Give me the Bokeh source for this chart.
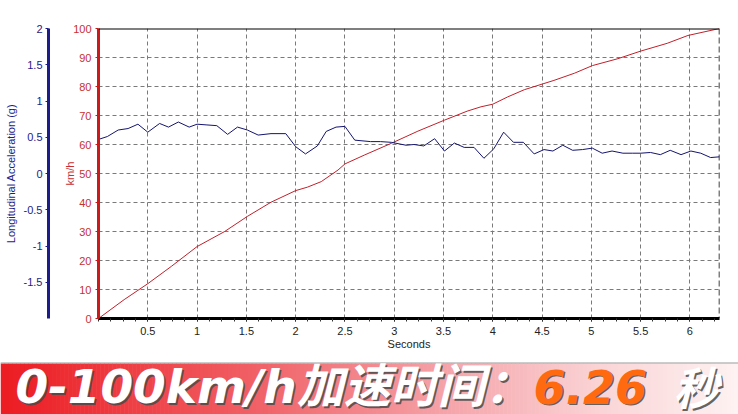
from bokeh.plotting import figure
from bokeh.models import Range1d, LinearAxis, FixedTicker, CustomJSTickFormatter, Span
from bokeh.layouts import column
from bokeh.core.properties import value
from bokeh.embed import file_html
from bokeh.resources import INLINE

# ---------------- data ----------------
accel_t = [0.0, 0.09, 0.2, 0.3, 0.4, 0.5, 0.62, 0.71, 0.81, 0.92, 1.0, 1.1, 1.2, 1.31, 1.41,
           1.51, 1.62, 1.75, 1.9, 2.0, 2.1, 2.22, 2.31, 2.41, 2.5, 2.6, 2.76, 2.86, 2.97, 3.12,
           3.2, 3.3, 3.41, 3.51, 3.61, 3.71, 3.81, 3.91, 4.01, 4.11, 4.21, 4.31, 4.42, 4.52,
           4.61, 4.71, 4.81, 4.91, 5.01, 5.11, 5.21, 5.32, 5.42, 5.5, 5.6, 5.7, 5.8, 5.91,
           6.01, 6.11, 6.21, 6.3]
accel_g = [0.47, 0.51, 0.6, 0.62, 0.68, 0.57, 0.69, 0.64, 0.71, 0.64, 0.68, 0.67, 0.66, 0.54, 0.64,
           0.6, 0.53, 0.55, 0.55, 0.37, 0.27, 0.38, 0.58, 0.64, 0.65, 0.46, 0.44, 0.44, 0.43, 0.39,
           0.4, 0.38, 0.48, 0.31, 0.42, 0.36, 0.36, 0.21, 0.34, 0.57, 0.43, 0.43, 0.27, 0.33,
           0.31, 0.39, 0.32, 0.33, 0.35, 0.28, 0.31, 0.28, 0.28, 0.28, 0.29, 0.26, 0.32, 0.26,
           0.31, 0.28, 0.22, 0.23]

speed_t = [0.0, 0.26, 0.5, 0.74, 1.0, 1.28, 1.51, 1.75, 2.0, 2.12, 2.26, 2.43, 2.5, 2.7, 2.97,
           3.24, 3.51, 3.74, 3.88, 4.0, 4.15, 4.32, 4.62, 4.83, 5.01, 5.27, 5.5, 5.77, 5.98, 6.3]
speed_kmh = [0, 6.5, 12.0, 18.0, 24.8, 30.0, 35.2, 40.1, 44.1, 45.3, 47.2, 51.2, 53.3, 56.4, 60.4,
             64.6, 68.4, 71.5, 73.0, 73.9, 76.4, 78.9, 82.1, 84.6, 87.2, 89.6, 92.2, 94.9, 97.6, 100]

x_ticks = [0.5, 1, 1.5, 2, 2.5, 3, 3.5, 4, 4.5, 5, 5.5, 6]
speed_ticks = [0, 10, 20, 30, 40, 50, 60, 70, 80, 90, 100]
accel_ticks = [-1.5, -1, -0.5, 0, 0.5, 1, 1.5, 2]

t_end = speed_t[-1]

banner_main = "0-100km/h加速时间："
banner_value = "6.26"
banner_unit = "秒"

FONT = "Liberation Sans"
NAVY = "#1c1c8a"
RED = "#cc1a1a"
W = 738
CH = 352          # chart figure height
BH = 414 - CH     # banner figure height
STRIPE = 52       # height of the coloured banner band

# ---------------- chart ----------------
p = figure(width=W, height=CH, x_range=Range1d(0, t_end), y_range=Range1d(0, 100),
           output_backend="svg", toolbar_location=None,
           min_border_left=98, min_border_right=19, min_border_top=28,
           min_border_bottom=CH - 319)
p.frame_align = False
p.extra_y_ranges = {"acc": Range1d(-2, 2)}
p.outline_line_color = None
p.background_fill_color = "white"

fmt = CustomJSTickFormatter(code="return tick.toString();")

xa = p.xaxis[0]
xa.ticker = FixedTicker(ticks=x_ticks, minor_ticks=[i * 0.125 for i in range(51)])
xa.formatter = fmt
xa.axis_label = "Seconds"
xa.axis_line_color = "black"
xa.axis_line_width = 3
xa.major_tick_line_color = "#333333"
xa.minor_tick_line_color = "#333333"
xa.major_tick_in = 0
xa.major_tick_out = 3
xa.minor_tick_in = 0
xa.minor_tick_out = 3
xa.major_label_standoff = 5
xa.axis_label_standoff = 0
xa.major_label_text_font = FONT
xa.major_label_text_font_size = "11px"
xa.major_label_text_color = "#222222"
xa.axis_label_text_font = FONT
xa.axis_label_text_font_size = "11px"
xa.axis_label_text_font_style = "normal"
xa.axis_label_text_color = "#222222"

ya = p.yaxis[0]
ya.ticker = FixedTicker(ticks=speed_ticks)
ya.axis_label = "km/h"
ya.axis_line_color = RED
ya.axis_line_width = 3
ya.major_tick_line_color = RED
ya.major_tick_in = 0
ya.major_tick_out = 3
ya.minor_tick_line_color = None
ya.major_label_standoff = 4
ya.axis_label_standoff = -6
ya.major_label_text_font = FONT
ya.major_label_text_font_size = "11px"
ya.major_label_text_color = "#c83030"
ya.axis_label_text_font = FONT
ya.axis_label_text_font_size = "11px"
ya.axis_label_text_font_style = "normal"
ya.axis_label_text_color = "#c83030"

# spacer axis (invisible) to push the acceleration axis outward
sp = LinearAxis(y_range_name="acc", ticker=FixedTicker(ticks=[]), axis_label=" ",
                axis_label_standoff=1, axis_line_color=None, major_tick_line_color=None,
                minor_tick_line_color=None, major_label_text_font_size="0px",
                axis_label_text_font_size="8px")
p.add_layout(sp, "left")

ba = LinearAxis(y_range_name="acc", ticker=FixedTicker(ticks=accel_ticks), formatter=fmt,
                axis_label="Longitudinal Acceleration (g)")
ba.axis_line_color = NAVY
ba.axis_line_width = 3
ba.major_tick_line_color = NAVY
ba.major_tick_in = 0
ba.major_tick_out = 3
ba.minor_tick_line_color = None
ba.major_label_standoff = 3
ba.axis_label_standoff = 4
ba.major_label_text_font = FONT
ba.major_label_text_font_size = "11px"
ba.major_label_text_color = NAVY
ba.axis_label_text_font = FONT
ba.axis_label_text_font_size = "11px"
ba.axis_label_text_font_style = "normal"
ba.axis_label_text_color = NAVY
p.add_layout(ba, "left")

for g in (p.xgrid[0], p.ygrid[0]):
    g.grid_line_color = "#7a7a7a"
    g.grid_line_dash = "4 3"
    g.grid_line_width = 1

p.add_layout(Span(location=100, dimension="width", line_color="black", line_width=2))
p.add_layout(Span(location=t_end, dimension="height", line_color="black", line_width=1.5,
                  line_dash="6 3"))

p.line(speed_t, speed_kmh, line_color="#c0202a", line_width=1)
p.line(accel_t, accel_g, line_color="#14146e", line_width=1, y_range_name="acc")

# ---------------- banner ----------------
b = figure(width=W, height=BH, x_range=Range1d(0, W), y_range=Range1d(0, BH),
           x_axis_type=None, y_axis_type=None, output_backend="svg", toolbar_location=None,
           min_border=0, outline_line_color=None)
b.frame_align = False
b.grid.visible = False
b.background_fill_color = "white"

stops = [(0, (236, 28, 34)), (250, (240, 95, 100)), (450, (245, 165, 170)),
         (600, (250, 212, 214)), (W, (254, 242, 242))]
n = 185
lefts, rights, cols = [], [], []
for i in range(n):
    x0 = i * W / n
    x1 = (i + 1) * W / n
    xm = (x0 + x1) / 2
    for k in range(len(stops) - 1):
        a, ca = stops[k]
        c, cc = stops[k + 1]
        if a <= xm <= c:
            f = (xm - a) / (c - a)
            col = tuple(int(round(ca[j] + (cc[j] - ca[j]) * f)) for j in range(3))
            break
    lefts.append(x0)
    rights.append(x1 + 0.6)
    cols.append("#%02x%02x%02x" % col)
b.quad(left=lefts, right=rights, bottom=0, top=STRIPE - 1, fill_color=cols, line_color=None)
b.quad(left=0, right=W, bottom=STRIPE - 1, top=STRIPE, fill_color="#9a9a9a", line_color=None)

BASE = 28
MIXED = "DejaVu Sans, Noto Sans CJK SC"

def btext(x, y, txt, font, color, size):
    b.text(x=[x + 1.5], y=[y - 1.5], text=[txt], text_font=value(font), text_font_size=size,
           text_font_style="bold italic", text_color="#4a4a4a", text_alpha=0.85,
           text_baseline="alphabetic")
    b.text(x=[x], y=[y], text=[txt], text_font=value(font), text_font_size=size,
           text_font_style="bold italic", text_color=color, text_baseline="alphabetic")

btext(15, BASE, banner_main, MIXED, "white", "47px")
btext(533, BASE, banner_value, "DejaVu Sans", "#ff6a10", "46px")
btext(673, BASE + 1, banner_unit, "Noto Sans CJK SC", "white", "45px")

layout = column(p, b, spacing=0)
open("out.html", "w").write(file_html(layout, INLINE))
